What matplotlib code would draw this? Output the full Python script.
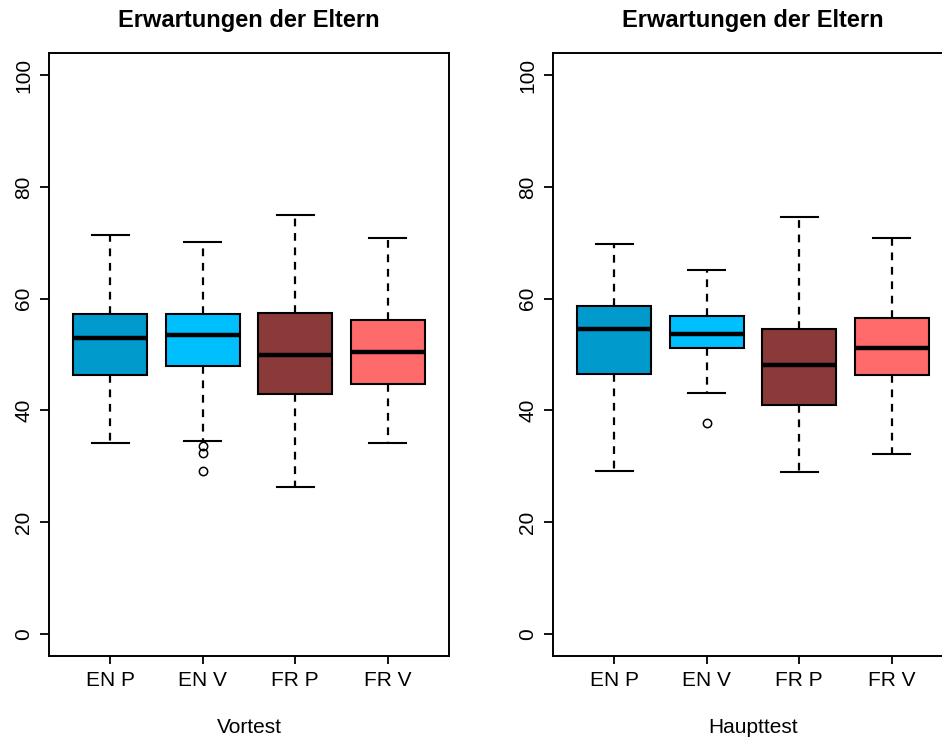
import matplotlib.pyplot as plt

plt.rcParams['font.family'] = ['Liberation Sans', 'DejaVu Sans']

# categories and box statistics
groups = ['EN P', 'EN V', 'FR P', 'FR V']
colors = ['#009ACD', '#00BFFF', '#8B3A3A', '#FF6A6A']

vor_whislo = [34.1, 34.5, 26.2, 34.2]
vor_q1 = [46.4, 48.0, 42.9, 44.7]
vor_med = [52.9, 53.5, 49.9, 50.4]
vor_q3 = [57.3, 57.2, 57.5, 56.1]
vor_whishi = [71.4, 70.2, 74.9, 70.9]
vor_fliers = [[], [33.6, 32.4, 29.2], [], []]

haupt_whislo = [29.2, 43.1, 29.0, 32.1]
haupt_q1 = [46.5, 51.1, 41.0, 46.4]
haupt_med = [54.5, 53.7, 48.1, 51.1]
haupt_q3 = [58.7, 56.9, 54.6, 56.5]
haupt_whishi = [69.8, 65.2, 74.6, 70.9]
haupt_fliers = [[], [37.8], [], []]

panels = [
    (vor_whislo, vor_q1, vor_med, vor_q3, vor_whishi, vor_fliers),
    (haupt_whislo, haupt_q1, haupt_med, haupt_q3, haupt_whishi, haupt_fliers),
]
xlabels = ['Vortest', 'Haupttest']

fig = plt.figure(figsize=(9.42, 7.42), dpi=100)
lefts = [49 / 942, 553 / 942]

for i, (wlo, q1, med, q3, whi, fl) in enumerate(panels):
    ax = fig.add_axes([lefts[i], 86 / 742, 400 / 942, 603 / 742])
    stats = []
    for j in range(len(groups)):
        stats.append({'whislo': wlo[j], 'q1': q1[j], 'med': med[j], 'q3': q3[j],
                      'whishi': whi[j], 'fliers': fl[j], 'label': groups[j]})
    bp = ax.bxp(stats, positions=range(1, 5), widths=0.8, patch_artist=True,
                showfliers=True,
                boxprops=dict(edgecolor='black', linewidth=1.5),
                medianprops=dict(color='black', linewidth=3.2, solid_capstyle='butt'),
                whiskerprops=dict(color='black', linewidth=1.6, linestyle=(0, (3.5, 3))),
                capprops=dict(color='black', linewidth=1.5),
                flierprops=dict(marker='o', markerfacecolor='none', markeredgecolor='black',
                                markersize=6, markeredgewidth=1.1))
    # R style staples: half the box width
    for cap in bp['caps']:
        xd = cap.get_xdata()
        c = (xd[0] + xd[1]) / 2
        cap.set_xdata([c - 0.2, c + 0.2])
    for patch, col in zip(bp['boxes'], colors):
        patch.set_facecolor(col)

    ax.set_xlim(0.34, 4.66)
    ax.set_ylim(-4, 104)
    ax.set_yticks([0, 20, 40, 60, 80, 100])
    ax.set_xticks(range(1, 5))
    ax.set_xticklabels(groups)
    for lab in ax.get_yticklabels():
        lab.set_rotation(90)
        lab.set_va('center')
    ax.tick_params(axis='y', labelsize=15, length=6.5, width=1.3, pad=5)
    ax.tick_params(axis='x', labelsize=15, length=6, width=1.3, pad=5)
    for s in ax.spines.values():
        s.set_linewidth(1.4)
    if i == 1:
        ax.spines['right'].set_visible(False)
    ax.set_title('Erwartungen der Eltern', fontsize=17, fontweight='bold', pad=19)
    ax.set_xlabel(xlabels[i], fontsize=15, labelpad=20)

fig.savefig('out.png', dpi=100)
